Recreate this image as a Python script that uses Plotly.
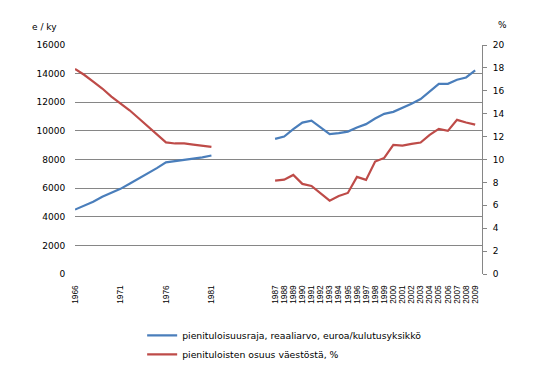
import plotly.graph_objects as go

# ---- data ----
years_a = list(range(1966, 1982))
income_a = [4500, 4750, 5050, 5400, 5680, 5950, 6300, 6650, 7050, 7400,
            7800, 7880, 7950, 8080, 8150, 8280]
share_a = [17.9, 17.4, 16.8, 16.2, 15.5, 14.9, 14.3, 13.6, 12.9, 12.2,
           11.5, 11.4, 11.4, 11.3, 11.2, 11.1]

years_b = list(range(1987, 2010))
income_b = [9440, 9600, 10120, 10580, 10720, 10230, 9770, 9840, 9950, 10230,
            10470, 10860, 11190, 11330, 11590, 11890, 12220, 12780, 13290, 13290,
            13570, 13730, 14220]
share_b = [8.16, 8.24, 8.65, 7.87, 7.69, 7.05, 6.41, 6.82, 7.08, 8.48,
           8.22, 9.82, 10.14, 11.28, 11.22, 11.36, 11.48, 12.15, 12.67, 12.5,
           13.46, 13.23, 13.05]

n_gap = 6  # empty categories between the two periods
labelled_early = [1966, 1971, 1976, 1981]

name_income = "pienituloisuusraja, reaaliarvo, euroa/kulutusyksikkö"
name_share = "pienituloisten osuus väestöstä, %"

# ---- build category positions ----
categories = [str(y) for y in years_a] + [""] * n_gap + [str(y) for y in years_b]
idx = list(range(len(categories)))
income = income_a + [None] * n_gap + income_b
share = share_a + [None] * n_gap + share_b

tickvals, ticktext = [], []
for i, c in enumerate(categories):
    if c and (int(c) >= 1987 or int(c) in labelled_early):
        tickvals.append(i)
        ticktext.append(c)

BLUE = "#4A7EBB"
RED = "#BE4B48"
GRID = "#868686"
FONT = "DejaVu Sans"

fig = go.Figure()
fig.add_trace(go.Scatter(x=idx, y=income, name=name_income, mode="lines",
                         line=dict(color=BLUE, width=2.2), connectgaps=False))
fig.add_trace(go.Scatter(x=idx, y=share, name=name_share, mode="lines", yaxis="y2",
                         line=dict(color=RED, width=2.2), connectgaps=False))

# page body has an 8px margin, so the figure is drawn 8px smaller and offset
fig.update_layout(
    width=534, height=378,
    margin=dict(l=67, r=60, t=37, b=112),
    paper_bgcolor="white", plot_bgcolor="white",
    font=dict(family=FONT, size=9, color="#000000"),
    showlegend=True,
    legend=dict(x=0.165, y=-0.205, xanchor="left", yanchor="top",
                font=dict(family=FONT, size=9.3), tracegroupgap=0,
                bgcolor="rgba(0,0,0,0)"),
    xaxis=dict(range=[0, 44.75], tickmode="array", tickvals=tickvals, ticktext=ticktext,
               tickangle=-90, tickfont=dict(family="Liberation Sans", size=8.3),
               showgrid=False, zeroline=False, showline=False,
               ticks="outside", ticklen=7, tickcolor="rgba(0,0,0,0)"),
    yaxis=dict(range=[0, 16000], dtick=2000, showgrid=True, gridcolor=GRID, gridwidth=1,
               zeroline=False, showline=False, tickformat="d",
               ticks="outside", ticklen=7, tickcolor="rgba(0,0,0,0)"),
    yaxis2=dict(range=[0, 20], dtick=2, overlaying="y", side="right", showgrid=False,
                zeroline=False, showline=True, linecolor=GRID, linewidth=1,
                ticks="outside", ticklen=4, tickcolor=GRID, ticklabelstandoff=4),
    annotations=[
        dict(text="e / ky", xref="paper", yref="paper", x=-16 / 407, y=1.0, yshift=11,
             xanchor="right", yanchor="bottom", showarrow=False,
             font=dict(family=FONT, size=9)),
        dict(text="%", xref="paper", yref="paper", x=1.05, y=1.0, yshift=13,
             xanchor="center", yanchor="bottom", showarrow=False,
             font=dict(family=FONT, size=9)),
    ],
)

fig.write_html("out.html")
